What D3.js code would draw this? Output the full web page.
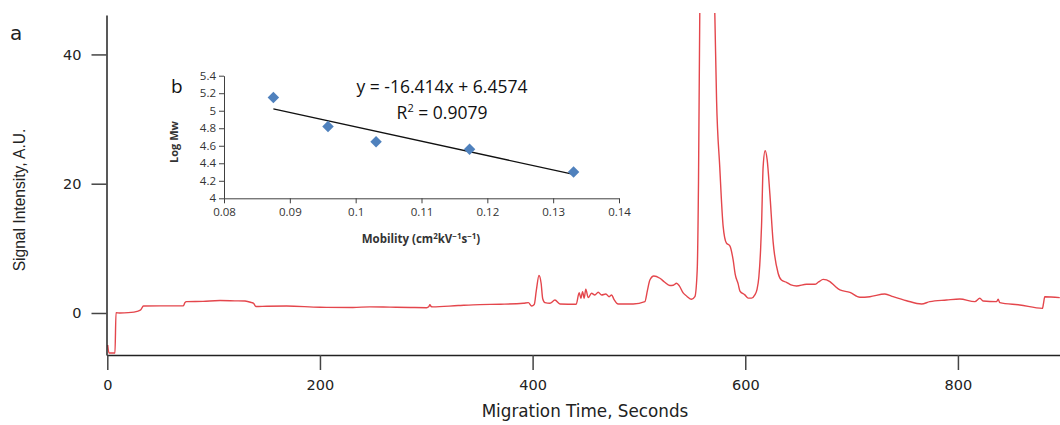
<!DOCTYPE html>
<html>
<head>
<meta charset="utf-8">
<script src="https://d3js.org/d3.v7.min.js"></script>
<style>
  body { margin: 0; background: #fff; }
  svg { display: block; }
</style>
</head>
<body>
<svg id="chart" width="1060" height="425"></svg>
<script>
// electropherogram trace (panel a)
const migrationTime = [0.4, 1.6, 7.2, 8.2, 12, 19.7, 29, 31.5, 34, 50, 71.5, 73, 74.5, 90, 106, 120, 129.5, 135.8, 137.5, 139.8,
  150, 168.7, 200, 231, 247, 265.8, 285, 300.3, 302.5, 303.4, 304.5, 306, 330, 350.4, 370, 391.2, 396, 399.1, 401.5, 403.5,
  406, 408, 409.5, 411.6, 416.3, 421, 425.7, 441, 443.8, 445.4, 447, 448.5, 450, 452.3, 455.4, 458.5, 461.7, 464.9, 468.9, 472,
  474.3, 476.5, 480.5, 494.6, 505.6, 508, 510.3, 514, 519.7, 524, 529, 532.3, 535.4, 538, 541.6, 545, 549.5, 552.6, 554.8, 556,
  557.2, 559, 564, 569, 571.4, 573, 576, 579.2, 582.3, 585.5, 588.6, 590.5, 593.3, 595, 599.6, 602.8, 605.9, 609, 611, 612.8,
  614.4, 615.3, 616.8, 618.7, 620.6, 623.1, 626.2, 630.9, 634, 638.8, 643, 648.2, 657.6, 665.4, 669, 673.3, 679.6, 684, 689, 698.4,
  707.8, 717.2, 731.3, 739.1, 751.7, 765.8, 773.6, 789.3, 801.8, 815.9, 820.6, 823.7, 836.3, 837.8, 839.4, 858.2, 879.5, 880.5, 881.7, 895.8];
const signal = [-4.95, -6.2, -6.2, 0.05, 0.0, 0.05, 0.3, 0.5, 1.08, 1.1, 1.1, 1.6, 1.75, 1.8, 1.92, 1.88, 1.85, 1.6, 1.5, 1.0,
  1.05, 1.08, 0.88, 0.85, 0.95, 0.9, 0.85, 0.82, 1.0, 1.3, 1.0, 0.95, 1.15, 1.3, 1.35, 1.5, 1.6, 1.08, 1.3, 3.5,
  5.8, 4.6, 2.2, 1.6, 1.5, 2.0, 1.4, 1.35, 3.15, 2.27, 3.3, 2.27, 3.67, 2.37, 3.05, 2.79, 3.2, 2.79, 2.94, 2.52,
  2.79, 2.12, 1.39, 1.4, 1.75, 3.5, 5.1, 5.73, 5.37, 4.8, 4.25, 4.3, 4.6, 4.2, 3.1, 2.6, 2.12, 2.52, 6.65, 20,
  46, 62, 70, 62, 46, 33, 22.6, 13.4, 10.8, 10.4, 8.2, 6.0, 4.5, 3.4, 2.8, 2.3, 2.3, 2.79, 3.6, 5.6,
  9.75, 13.5, 22.6, 25.1, 23.7, 18.5, 11, 6.15, 5.1, 4.75, 4.35, 4.18, 4.44, 4.44, 4.8, 5.2, 4.85, 4.2, 3.56, 3.2,
  2.43, 2.52, 2.94, 2.52, 1.9, 1.39, 1.75, 2.0, 2.17, 1.75, 2.27, 1.86, 1.75, 2.12, 1.6, 1.24, 0.72, 1.5, 2.52, 2.37];
const timeTicks = [0, 200, 400, 600, 800];
const signalTicks = [0, 20, 40];

// calibration inset (panel b)
const mobility = [0.0875, 0.0958, 0.1031, 0.1173, 0.1331];
const logMw = [5.15, 4.82, 4.645, 4.56, 4.30];
const fitSlope = -16.414;
const fitIntercept = 6.4574;
const fitR2 = 0.9079;
const mobilityTicks = [0.08, 0.09, 0.1, 0.11, 0.12, 0.13, 0.14];
const logMwTicks = [4, 4.2, 4.4, 4.6, 4.8, 5, 5.2, 5.4];

const svg = d3.select('#chart');

// ---- main chart ----
const x = d3.scaleLinear().domain([0, 896]).range([107.3, 1060]);
const y = d3.scaleLinear().domain([-6.5, 46.1]).range([355, 15]);

svg.append('defs').append('clipPath').attr('id', 'plotClip')
  .append('rect').attr('x', 106).attr('y', 13).attr('width', 960).attr('height', 343);

const trace = migrationTime.map((t, i) => [t, signal[i]]);
const line = d3.line().x(d => x(d[0])).y(d => y(d[1])).curve(d3.curveMonotoneX);

svg.append('path')
  .datum(trace)
  .attr('clip-path', 'url(#plotClip)')
  .attr('d', line)
  .attr('fill', 'none')
  .attr('stroke', '#e4464c')
  .attr('stroke-width', 1.4)
  .attr('stroke-linejoin', 'round');

const xAxis = svg.append('g')
  .attr('transform', 'translate(0,355)')
  .call(d3.axisBottom(x).tickValues(timeTicks).tickSize(15).tickSizeOuter(0).tickPadding(10));
const yAxis = svg.append('g')
  .attr('transform', 'translate(106.5,0)')
  .call(d3.axisLeft(y).tickValues(signalTicks).tickSize(15).tickSizeOuter(0).tickPadding(10));

[xAxis, yAxis].forEach(g => {
  g.select('.domain').attr('stroke', '#222').attr('stroke-width', 1.5);
  g.selectAll('.tick line').attr('stroke', '#444').attr('stroke-width', 1.5);
  g.selectAll('.tick text')
    .attr('font-family', 'DejaVu Sans')
    .attr('font-size', 14.5)
    .attr('fill', '#222');
});

svg.append('text')
  .attr('x', 585).attr('y', 417)
  .attr('text-anchor', 'middle')
  .attr('font-family', 'DejaVu Sans')
  .attr('font-size', 16.8)
  .attr('fill', '#222')
  .text('Migration Time, Seconds');

svg.append('text')
  .attr('transform', 'translate(25,200) rotate(-90)')
  .attr('text-anchor', 'middle')
  .attr('font-family', 'Liberation Sans')
  .attr('font-size', 15.6)
  .attr('fill', '#222')
  .text('Signal Intensity, A.U.');

svg.append('text')
  .attr('x', 10).attr('y', 40)
  .attr('font-family', 'DejaVu Sans')
  .attr('font-size', 20)
  .attr('fill', '#222')
  .text('a');

// ---- inset ----
const ix = d3.scaleLinear().domain([0.08, 0.14]).range([224, 619]);
const iy = d3.scaleLinear().domain([4, 5.4]).range([198.3, 75.7]);

const insetX = svg.append('g')
  .attr('transform', 'translate(0,198.3)')
  .call(d3.axisBottom(ix).tickValues(mobilityTicks).tickFormat(d => String(d))
    .tickSize(5).tickSizeOuter(0).tickPadding(5));
const insetY = svg.append('g')
  .attr('transform', 'translate(224,0)')
  .call(d3.axisLeft(iy).tickValues(logMwTicks).tickFormat(d => String(d))
    .tickSize(5).tickSizeOuter(0).tickPadding(3));

[insetX, insetY].forEach(g => {
  g.select('.domain').attr('stroke', '#404040').attr('stroke-width', 1);
  g.selectAll('.tick line').attr('stroke', '#404040').attr('stroke-width', 1);
  g.selectAll('.tick text')
    .attr('font-family', 'Open Sans')
    .attr('font-size', 11.5)
    .attr('fill', '#333');
});

const fitEnds = d3.extent(mobility);
svg.append('line')
  .attr('x1', ix(fitEnds[0])).attr('y1', iy(fitSlope * fitEnds[0] + fitIntercept))
  .attr('x2', ix(fitEnds[1])).attr('y2', iy(fitSlope * fitEnds[1] + fitIntercept))
  .attr('stroke', '#111')
  .attr('stroke-width', 1.3);

svg.selectAll('.pt')
  .data(mobility)
  .enter()
  .append('path')
  .attr('class', 'pt')
  .attr('d', d3.symbol().type(d3.symbolSquare).size(66))
  .attr('transform', (d, i) => 'translate(' + ix(d) + ',' + iy(logMw[i]) + ') rotate(45)')
  .attr('fill', '#4f81bd');

svg.append('text')
  .attr('x', 442).attr('y', 93)
  .attr('text-anchor', 'middle')
  .attr('font-family', 'Open Sans')
  .attr('font-size', 17.5)
  .attr('fill', '#111')
  .text('y = ' + fitSlope + 'x + ' + fitIntercept);

const r2 = svg.append('text')
  .attr('x', 442).attr('y', 119)
  .attr('text-anchor', 'middle')
  .attr('font-family', 'Open Sans')
  .attr('font-size', 17.5)
  .attr('fill', '#111');
r2.append('tspan').text('R');
r2.append('tspan').attr('dy', -7).attr('font-size', 11).text('2');
r2.append('tspan').attr('dy', 7).text(' = ' + fitR2);

svg.append('text')
  .attr('x', 171).attr('y', 93)
  .attr('font-family', 'Open Sans')
  .attr('font-size', 19)
  .attr('fill', '#111')
  .text('b');

svg.append('text')
  .attr('transform', 'translate(178,142) rotate(-90)')
  .attr('text-anchor', 'middle')
  .attr('font-family', 'Open Sans')
  .attr('font-weight', 'bold')
  .attr('font-size', 11)
  .attr('fill', '#333')
  .text('Log Mw');

const mt = svg.append('text')
  .attr('x', 421).attr('y', 243)
  .attr('text-anchor', 'middle')
  .attr('font-family', 'Open Sans')
  .attr('font-weight', 'bold')
  .attr('font-size', 11.5)
  .attr('fill', '#333');
mt.append('tspan').text('Mobility (cm');
mt.append('tspan').attr('dy', -4).attr('font-size', 8).text('2');
mt.append('tspan').attr('dy', 4).text('kV');
mt.append('tspan').attr('dy', -4).attr('font-size', 8).text('\u22121');
mt.append('tspan').attr('dy', 4).text('s');
mt.append('tspan').attr('dy', -4).attr('font-size', 8).text('\u22121');
mt.append('tspan').attr('dy', 4).text(')');
</script>
</body>
</html>
